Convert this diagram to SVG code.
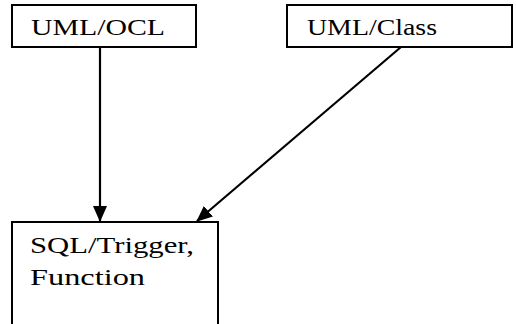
<svg xmlns="http://www.w3.org/2000/svg" width="516" height="324" viewBox="0 0 516 324">
<style>
.box{fill:#fff;stroke:#000;stroke-width:2}
.t{font-family:"Liberation Serif","DejaVu Serif",serif;font-size:24px;fill:#000}
.c{stroke:#000;stroke-width:2.2;fill:none}
</style>
<defs>
<marker id="ah" markerWidth="16" markerHeight="14" refX="15" refY="7" orient="auto" markerUnits="userSpaceOnUse" viewBox="0 0 16 14">
<path d="M0,0 L16,7 L0,14 z" fill="#000"/>
</marker>
</defs>
<rect width="516" height="324" fill="#fff"/>
<g id="n1"><rect class="box" x="12" y="5" width="184" height="42"/><text class="t" x="31" y="35" textLength="134" lengthAdjust="spacingAndGlyphs">UML/OCL</text></g>
<g id="n2"><rect class="box" x="287" y="5" width="225" height="42"/><text class="t" x="307" y="35" textLength="130" lengthAdjust="spacingAndGlyphs">UML/Class</text></g>
<g id="n3"><rect class="box" x="12" y="222" width="206" height="110"/><text class="t" x="30" y="253" textLength="164" lengthAdjust="spacingAndGlyphs">SQL/Trigger,</text><text class="t" x="30" y="285" textLength="115" lengthAdjust="spacingAndGlyphs">Function</text></g>
<g id="connectors">
<line class="c" x1="100" y1="47" x2="100" y2="221" marker-end="url(#ah)"/>
<line class="c" x1="401" y1="47" x2="197" y2="221" marker-end="url(#ah)"/>
</g>
</svg>
